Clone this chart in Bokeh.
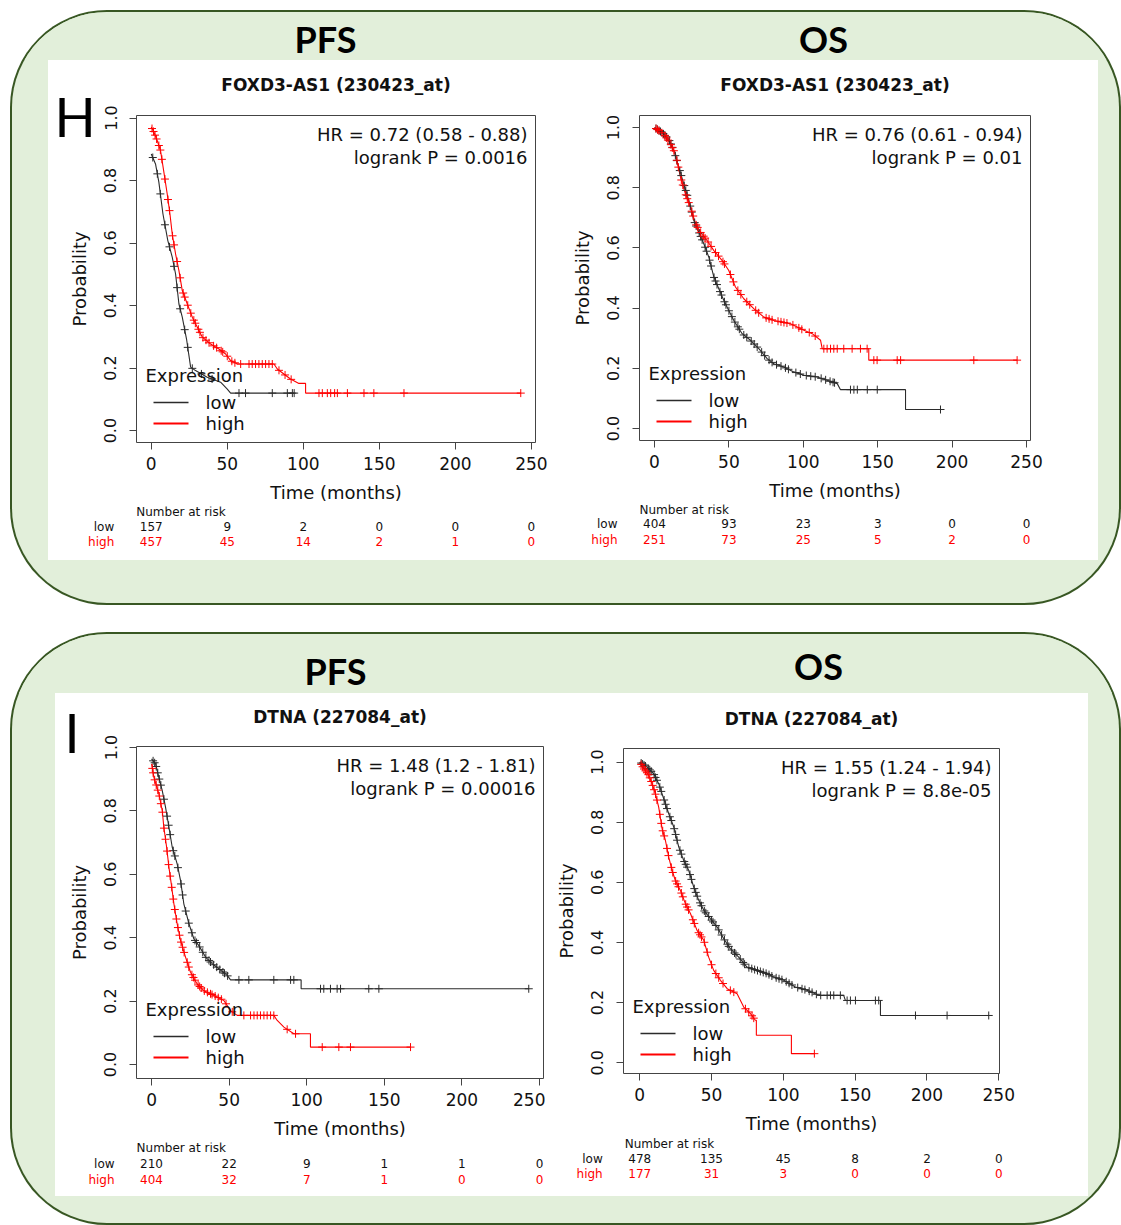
import numpy as np
from bokeh.plotting import figure
from bokeh.models import (Range1d, FixedTicker, NumeralTickFormatter, Label, Spacer)
from bokeh.layouts import column, row
from bokeh.core.properties import value
from bokeh.embed import file_html
from bokeh.resources import INLINE

# ---------------- data ----------------
X_TICKS = [0, 50, 100, 150, 200, 250]
Y_TICKS = [0.0, 0.2, 0.4, 0.6, 0.8, 1.0]
RISK_TIMES = [0, 50, 100, 150, 200, 250]
HEADERS = ["PFS", "OS"]
PANEL_LETTERS = ["H", "I"]
GROUPS = ["low", "high"]

# H / PFS : FOXD3-AS1 (230423_at)
HL_title = "FOXD3-AS1 (230423_at)"
HL_hr = "HR = 0.72 (0.58 - 0.88)"
HL_p = "logrank P = 0.0016"
HL_low_t = [0, 2.8, 5.0, 7.7, 10.9, 13.8, 16.0, 18.2, 20.4, 23.2, 25.9, 29.1, 36.8, 45.6, 50.0, 52.2, 94]
HL_low_s = [0.885, 0.853, 0.795, 0.693, 0.608, 0.555, 0.501, 0.405, 0.363, 0.293, 0.203, 0.192, 0.171,
            0.155, 0.133, 0.120, 0.120]
HL_low_c = [1, 4, 6, 9, 12, 15, 17, 19, 22, 24, 27, 33, 40, 57.7, 62, 79.6, 89.5, 92.8, 94]
HL_high_t = [0, 1.7, 3.9, 6.1, 8.3, 10.5, 12.3, 13.8, 16.0, 18.2, 20.4, 23.7, 27.0, 30.3, 33.6, 39.0,
             44.5, 48.9, 52.2, 56.6, 80.7, 82.9, 87.2, 91.6, 97.1, 101.5, 101.5, 243]
HL_high_s = [0.971, 0.955, 0.928, 0.896, 0.827, 0.757, 0.693, 0.629, 0.565, 0.512, 0.448, 0.405, 0.363,
             0.331, 0.299, 0.277, 0.261, 0.245, 0.224, 0.213, 0.213, 0.197, 0.181, 0.165, 0.151, 0.151,
             0.12, 0.12]
HL_high_c = [0.5, 1.5, 2.5, 3.5, 5, 6, 7, 9, 11, 12, 14, 15, 17, 19, 21, 22, 24, 26, 28, 29, 31, 32, 34,
             36, 38, 41, 43, 46, 47, 50, 53, 55, 58.8, 64.3, 66.4, 68.6, 70.8, 73, 75.2, 77.4, 79.6, 84,
             88, 92, 110.3, 112.5, 115.8, 118, 120.6, 122.4, 129, 139.9, 146.4, 166.2, 243]
HL_risk_low = [157, 9, 2, 0, 0, 0]
HL_risk_high = [457, 45, 14, 2, 1, 0]

# H / OS : FOXD3-AS1 (230423_at)
HR_title = "FOXD3-AS1 (230423_at)"
HR_hr = "HR = 0.76 (0.61 - 0.94)"
HR_p = "logrank P = 0.01"
HR_low_t = [0, 5.2, 9.6, 13.0, 16.4, 19.7, 23.1, 26.4, 29.8, 33.2, 36.5, 39.9, 43.2, 46.6, 49.9, 53.3,
            58.9, 64.5, 70.1, 75.7, 80.2, 86.9, 93.6, 100.4, 109.3, 116.0, 122.8, 125.0, 168.7, 168.7,
            192.2]
HR_low_s = [1.0, 0.983, 0.961, 0.923, 0.867, 0.812, 0.757, 0.691, 0.652, 0.613, 0.569, 0.503, 0.464,
            0.425, 0.392, 0.359, 0.315, 0.293, 0.265, 0.232, 0.215, 0.204, 0.188, 0.177, 0.171, 0.160,
            0.149, 0.129, 0.129, 0.063, 0.063]
HR_low_c = [1, 2, 3, 4, 6, 7, 8, 10, 11, 12, 14, 15, 17, 18, 20, 21, 22, 24, 25, 27, 28, 30, 31, 32, 34,
            35, 37, 38, 40, 41, 42, 44, 45, 47, 48, 50, 52, 54, 56, 57, 60, 62, 65, 67, 69, 72, 74, 77,
            79, 82, 85, 88, 90, 95, 98, 102, 105, 108, 112, 115, 118, 120, 121, 131.7, 134, 136.3, 143,
            149.7, 192.2]
HR_high_t = [0, 6.3, 10.8, 14.1, 17.5, 20.8, 24.2, 27.6, 30.9, 35.4, 39.9, 45.5, 49.9, 54.4, 60.0, 66.7,
             73.5, 80.2, 91.4, 95.9, 100.4, 106.0, 111.6, 112.7, 144.0, 144.0, 243.7]
HR_high_s = [1.0, 0.978, 0.945, 0.912, 0.834, 0.779, 0.735, 0.680, 0.652, 0.624, 0.591, 0.558, 0.525,
             0.470, 0.431, 0.398, 0.370, 0.359, 0.348, 0.337, 0.326, 0.315, 0.293, 0.265, 0.265, 0.227,
             0.227]
HR_high_c = [1, 2, 3, 5, 7, 8, 9, 11, 12, 13, 15, 16, 18, 19, 21, 22, 23, 25, 26, 28, 29, 31, 33, 34, 36,
             38, 41, 43, 46, 47, 51, 53, 56, 58, 62, 64, 68, 70, 75, 77, 79, 83, 85, 87, 89, 93, 97, 99,
             104, 108, 113.8, 116, 118.3, 120.5, 122.8, 127.2, 132.8, 138.4, 142.9, 147.4, 149.6, 163.1,
             165.4, 214.6, 243.7]
HR_risk_low = [404, 93, 23, 3, 0, 0]
HR_risk_high = [251, 73, 25, 5, 2, 0]

# I / PFS : DTNA (227084_at)
IL_title = "DTNA (227084_at)"
IL_hr = "HR = 1.48 (1.2 - 1.81)"
IL_p = "logrank P = 0.00016"
IL_low_t = [0, 2.6, 4.7, 6.9, 9.0, 11.2, 13.3, 16.5, 18.7, 20.8, 24.1, 27.3, 30.5, 34.8, 39.1, 43.4,
            48.8, 50.9, 96.4, 96.4, 243.1]
IL_low_s = [0.964, 0.948, 0.906, 0.864, 0.812, 0.749, 0.686, 0.633, 0.580, 0.507, 0.444, 0.396, 0.375,
            0.339, 0.318, 0.302, 0.281, 0.267, 0.267, 0.239, 0.239]
IL_low_c = [1, 2, 3, 4, 5, 6, 8, 10, 11, 12, 14, 15, 17, 19, 20, 22, 24, 26, 28, 29, 31, 33, 35, 37, 38,
            40, 42, 44, 46, 47, 49, 56.3, 62.7, 78.8, 89.6, 91.7, 108.9, 111, 115.3, 119.6, 121.8, 140,
            146.5, 243.1]
IL_high_t = [0, 1.5, 4.7, 6.9, 7.9, 9.7, 11.2, 12.7, 14.4, 16.5, 18.7, 21.9, 25.1, 29.4, 33.7, 40.2,
             46.6, 50.9, 55.2, 78.8, 81.0, 85.3, 91.7, 102.4, 102.4, 166.9]
IL_high_s = [0.948, 0.906, 0.854, 0.801, 0.749, 0.686, 0.622, 0.570, 0.507, 0.444, 0.391, 0.339, 0.291,
             0.254, 0.233, 0.218, 0.202, 0.170, 0.155, 0.155, 0.139, 0.118, 0.097, 0.097, 0.055, 0.055]
IL_high_c = [0.5, 1, 2, 3, 4, 5, 6, 7, 8, 9, 10, 11, 12, 13, 14, 15, 16, 17, 18, 19, 20, 21, 23, 24, 26,
             27, 28, 30, 31, 32, 34, 36, 38, 39, 41, 43, 45, 48, 52, 59.5, 63.8, 66, 68.1, 70.2, 72.4,
             74.5, 76.7, 78.8, 87.4, 92.8, 110, 120.7, 128.2, 166.9]
IL_risk_low = [210, 22, 9, 1, 1, 0]
IL_risk_high = [404, 32, 7, 1, 0, 0]

# I / OS : DTNA (227084_at)
IR_title = "DTNA (227084_at)"
IR_hr = "HR = 1.55 (1.24 - 1.94)"
IR_p = "logrank P = 8.8e-05"
IR_low_t = [0, 5.1, 9.7, 13.2, 16.7, 20.2, 23.7, 27.2, 30.6, 34.1, 37.6, 41.1, 44.6, 49.2, 53.9, 58.5,
            63.1, 68.9, 74.7, 81.7, 88.7, 93.3, 100.3, 108.4, 116.5, 124.7, 142.0, 143.2, 167.6, 167.6,
            243]
IR_low_s = [1.0, 0.983, 0.961, 0.928, 0.878, 0.828, 0.784, 0.717, 0.673, 0.640, 0.584, 0.540, 0.507,
            0.479, 0.451, 0.412, 0.379, 0.351, 0.318, 0.307, 0.296, 0.285, 0.274, 0.252, 0.241, 0.224,
            0.224, 0.207, 0.207, 0.157, 0.157]
IR_low_c = [1, 2, 3, 4, 6, 7, 8, 10, 11, 12, 14, 15, 17, 18, 19, 21, 22, 24, 25, 26, 28, 29, 31, 32, 33,
            35, 36, 38, 39, 40, 42, 43, 45, 46, 48, 50, 51, 53, 55, 57, 59, 61, 62, 64, 66, 67, 70, 72,
            73, 76, 78, 80, 82, 84, 86, 88, 90, 92, 95, 97, 99, 102, 104, 106, 110, 113, 115, 118, 120,
            123, 126, 130.5, 132.8, 135.1, 139.7, 144.4, 146.7, 150.2, 164.1, 166.4, 192, 214, 243]
IR_high_t = [0, 2.8, 6.3, 8.6, 10.9, 13.2, 15.6, 17.9, 20.2, 22.5, 24.8, 28.3, 31.8, 35.3, 39.9, 44.6,
             48.0, 51.5, 56.2, 60.9, 67.8, 72.4, 77.1, 80.5, 81.2, 81.2, 105.6, 105.6, 121.6]
IR_high_s = [1.0, 0.978, 0.956, 0.928, 0.895, 0.850, 0.778, 0.739, 0.684, 0.640, 0.606, 0.573, 0.529,
             0.496, 0.440, 0.407, 0.351, 0.307, 0.274, 0.246, 0.229, 0.185, 0.163, 0.141, 0.141, 0.091,
             0.091, 0.030, 0.030]
IR_high_c = [1, 2, 3, 4, 5, 6, 7, 8, 9, 10, 11, 12, 14, 15, 16, 17, 19, 20, 22, 23, 25, 26, 27, 29, 30,
             32, 33, 34, 37, 38, 41, 42, 43, 45, 47, 50, 53, 55, 58, 63.1, 65.5, 73.6, 75.9, 78.2, 79.4,
             121.6]
IR_risk_low = [478, 135, 45, 8, 2, 0]
IR_risk_high = [177, 31, 3, 0, 0, 0]

# ---------------- style ----------------
GREEN_BG = "#e2efda"
GREEN_LINE = "#385723"
FONT = "DejaVu Sans"
BLACK = "#2b2b2b"
RED = "#ff0000"
TXT = "#111111"


def bare_fig(width, height, xr, yr, fill="white", alpha=1.0):
    p = figure(width=width, height=height, x_range=Range1d(*xr), y_range=Range1d(*yr),
               output_backend="svg", toolbar_location=None, min_border=0,
               x_axis_location=None, y_axis_location=None)
    p.frame_align = False
    p.outline_line_color = None
    p.background_fill_color = fill
    p.border_fill_color = fill
    p.background_fill_alpha = alpha
    p.border_fill_alpha = alpha
    p.grid.visible = False
    return p


def put_text(p, xs, ys, texts, color, align, size="12px", style="normal", x_offset=0):
    p.text(x=xs, y=ys, text=texts, x_offset=x_offset, text_color=color,
           text_align=value(align), text_baseline=value("middle"), text_font=value(FONT),
           text_font_size=value(size), text_font_style=value(style))


def screen_label(p, x, y, text, align="left", size="18px", color=TXT):
    p.add_layout(Label(x=x, y=y, x_units="screen", y_units="screen", text=text,
                       text_align=align, text_baseline="middle", text_font=FONT,
                       text_font_size=size, text_color=color))


def km_panel(title, hr_text, p_text, low_t, low_s, low_c, high_t, high_s, high_c,
             risk_low, risk_high, width, title_h, main_h, risk_h, title_y,
             mbl, mbr, xr, yr, risk_y, leg_dy=0):
    mbt, mbb = 12, 64
    fw = width - mbl - mbr
    fh = main_h - mbt - mbb
    upp = (xr[1] - xr[0]) / fw
    vpp = (yr[1] - yr[0]) / fh
    ext = (xr[0] - mbl * upp, xr[1] + mbr * upp)

    # title strip (same horizontal scale as the plot frame)
    pt = bare_fig(width, title_h, ext, (title_h, 0))
    put_text(pt, [(xr[0] + xr[1]) / 2], [title_y], [title], TXT, "center", "17px", "bold")

    p = figure(width=width, height=main_h, x_range=Range1d(*xr), y_range=Range1d(*yr),
               output_backend="svg", toolbar_location=None,
               min_border_left=mbl, min_border_right=mbr, min_border_top=mbt, min_border_bottom=mbb)
    p.frame_align = False
    p.background_fill_color = "white"
    p.border_fill_color = "white"
    p.outline_line_color = "#444444"
    p.outline_line_width = 1
    p.grid.visible = False

    for ax in (p.xaxis[0], p.yaxis[0]):
        ax.axis_line_color = None
        ax.major_tick_line_color = "#444444"
        ax.major_tick_out = 7
        ax.major_tick_in = 0
        ax.minor_tick_line_color = None
        ax.major_label_text_font = FONT
        ax.major_label_text_color = TXT
        ax.axis_label_text_font = FONT
        ax.axis_label_text_font_style = "normal"
        ax.axis_label_text_font_size = "18px"
        ax.axis_label_text_color = TXT
    xa, ya = p.xaxis[0], p.yaxis[0]
    xa.ticker = FixedTicker(ticks=X_TICKS)
    xa.major_label_text_font_size = "17px"
    xa.major_label_standoff = 7
    xa.axis_label_standoff = 9
    xa.axis_label = "Time (months)"
    ya.ticker = FixedTicker(ticks=Y_TICKS)
    ya.formatter = NumeralTickFormatter(format="0.0")
    ya.major_label_orientation = "vertical"
    ya.major_label_text_font_size = "16px"
    ya.major_label_standoff = 13
    ya.axis_label_standoff = 12
    ya.axis_label = "Probability"

    p.line(low_t, low_s, line_color=BLACK, line_width=1.1)
    p.line(high_t, high_s, line_color=RED, line_width=1.1)
    p.scatter(low_c, np.interp(low_c, low_t, low_s), marker="cross", size=8,
              line_color=BLACK, line_width=1)
    p.scatter(high_c, np.interp(high_c, high_t, high_s), marker="cross", size=8,
              line_color=RED, line_width=1)

    # legend key lines (35 px dashes at fixed pixel offsets inside the frame)
    kx = xr[0] + 34.5 * upp
    p.scatter([kx], [yr[0] + (40 + leg_dy) * vpp], marker="dash", size=35,
              line_color=BLACK, line_width=1.4)
    p.scatter([kx], [yr[0] + (19 + leg_dy) * vpp], marker="dash", size=35,
              line_color=RED, line_width=2)

    screen_label(p, 9, 67 + leg_dy, "Expression")
    screen_label(p, 69, 40 + leg_dy, GROUPS[0])
    screen_label(p, 69, 19 + leg_dy, GROUPS[1])

    screen_label(p, fw - 8, fh - 19, hr_text, align="right")
    screen_label(p, fw - 8, fh - 42, p_text, align="right")

    # number-at-risk strip (same horizontal scale as the plot frame)
    pr = bare_fig(width, risk_h, ext, (risk_h, 0))
    put_text(pr, [0], [risk_y[0]], ["Number at risk"], TXT, "left", x_offset=-15)
    for name, vals, yy, col in ((GROUPS[0], risk_low, risk_y[1], TXT),
                                (GROUPS[1], risk_high, risk_y[2], RED)):
        put_text(pr, [0], [yy], [name], col, "right", x_offset=-37)
        put_text(pr, RISK_TIMES, [yy] * len(RISK_TIMES), [str(v) for v in vals], col, "center")
    return column(pt, p, pr)


def letter_fig(letter, x, y, panel_width):
    w, h = 60, 130
    p = bare_fig(w, h, (0, 1), (0, 1), alpha=0)
    p.add_layout(Label(x=x, y=y, x_units="screen", y_units="screen", text=letter,
                       text_align="left", text_baseline="middle", text_font="Lato",
                       text_font_size="54px", text_color="#000000"))
    p.margin = (0, panel_width - w, 0, -panel_width)
    return p


def header(width, height, items):
    p = bare_fig(width, height, (0, 1), (0, 1), fill=GREEN_BG)
    for txt, x, y in items:
        p.add_layout(Label(x=x, y=y, x_units="screen", y_units="screen", text=txt,
                           text_align="center", text_baseline="middle", text_font="Lato",
                           text_font_size="36px", text_font_style="bold", text_color="#000000"))
    return p


colHL = km_panel(HL_title, HL_hr, HL_p, HL_low_t, HL_low_s, HL_low_c, HL_high_t, HL_high_s, HL_high_c,
                 HL_risk_low, HL_risk_high, 512, 43, 403, 54, 24, 88, 25,
                 (-9.7, 252.7), (-0.038, 1.008), (5, 20, 35))
colHR = km_panel(HR_title, HR_hr, HR_p, HR_low_t, HR_low_s, HR_low_c, HR_high_t, HR_high_s, HR_high_c,
                 HR_risk_low, HR_risk_high, 538, 43, 401, 56, 24, 79, 68,
                 (-10.1, 252.7), (-0.04, 1.04), (5, 19, 35))
colIL = km_panel(IL_title, IL_hr, IL_p, IL_low_t, IL_low_s, IL_low_c, IL_high_t, IL_high_s, IL_high_c,
                 IL_risk_low, IL_risk_high, 490, 41, 408, 54, 23, 81, 2,
                 (-9.7, 252.6), (-0.044, 1.003), (5, 21, 37), leg_dy=2)
colIR = km_panel(IR_title, IR_hr, IR_p, IR_low_t, IR_low_s, IR_low_c, IR_high_t, IR_high_s, IR_high_c,
                 IR_risk_low, IR_risk_high, 543, 43, 401, 59, 25, 78, 89,
                 (-11.3, 250.5), (-0.036, 1.045), (6, 21, 36))

letH = letter_fig(PANEL_LETTERS[0], 6, 74, 512)
letI = letter_fig(PANEL_LETTERS[1], 9, 91, 490)

BOX_W = 1107
hdrH = header(BOX_W, 48, [(HEADERS[0], 313, 22), (HEADERS[1], 811, 22)])
hdrI = header(BOX_W, 59, [(HEADERS[0], 323, 23), (HEADERS[1], 806, 28)])

BOX_STYLE = {"background-color": GREEN_BG, "border-radius": "95px",
             "box-shadow": "0 0 0 2px " + GREEN_LINE, "overflow": "hidden"}
WHITE = {"background-color": "white"}

boxH = column(hdrH,
              row(Spacer(width=36, height=500), row(colHL, letH, colHR, styles=WHITE),
                  Spacer(width=21, height=500)),
              Spacer(width=BOX_W, height=43), styles=BOX_STYLE)
boxI = column(hdrI,
              row(Spacer(width=43, height=503), row(colIL, letI, colIR, styles=WHITE),
                  Spacer(width=31, height=503)),
              Spacer(width=BOX_W, height=27), styles=BOX_STYLE)

layout = column(Spacer(width=BOX_W + 12, height=12),
                row(Spacer(width=12, height=591), boxH),
                Spacer(width=BOX_W + 12, height=31),
                row(Spacer(width=12, height=589), boxI))

open("out.html", "w").write(file_html(layout, INLINE))
